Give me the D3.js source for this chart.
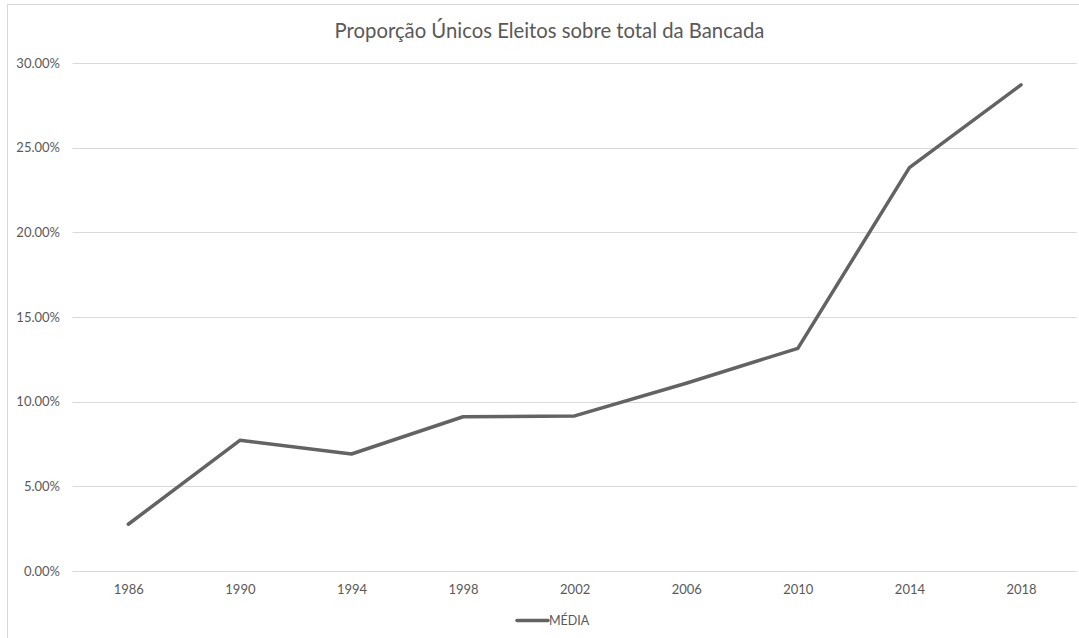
<!DOCTYPE html>
<html><head><meta charset="utf-8">
<script src="https://cdn.jsdelivr.net/npm/d3@7"></script>
<style>body{margin:0;background:#fff}svg{display:block}</style>
</head><body>
<svg id="c" width="1079" height="638"></svg>
<script>
const years = ["1986","1990","1994","1998","2002","2006","2010","2014","2018"];
const media = [0.0276,0.0772,0.0691,0.0911,0.0916,0.1109,0.1315,0.2382,0.2871];
const yTicks = [0,0.05,0.10,0.15,0.20,0.25,0.30];
const title = "Proporção Únicos Eleitos sobre total da Bancada";
const seriesName = "MÉDIA";

const svg = d3.select("#c");
const font = "Lato, 'Open Sans', sans-serif";
const m = {left:72.5, right:1076.8, top:63, bottom:571};

svg.append("rect").attr("x",7.5).attr("y",4.5).attr("width",1080).attr("height",640)
  .attr("fill","#fff").attr("stroke","#d9d9d9").attr("stroke-width",1);

const x = d3.scalePoint().domain(years).range([m.left, m.right]).padding(0.5);
const y = d3.scaleLinear().domain([0,0.30]).range([m.bottom, m.top]);

// gridlines
svg.append("g").selectAll("line").data(yTicks).join("line")
  .attr("x1",m.left).attr("x2",m.right)
  .attr("y1",d=>Math.round(y(d))+0.5).attr("y2",d=>Math.round(y(d))+0.5)
  .attr("stroke","#d9d9d9").attr("stroke-width",1);

// y axis labels
const yAxis = d3.axisLeft(y).tickValues(yTicks).tickFormat(d=>(d*100).toFixed(2)+"%").tickSize(0).tickPadding(0);
const ya = svg.append("g").attr("transform",`translate(60,0)`).call(yAxis);
ya.select(".domain").remove();
ya.selectAll("text").attr("fill","#595959").style("font-family",font).style("font-size","13px");

// x axis labels
const xAxis = d3.axisBottom(x).tickSize(0).tickPadding(0);
const xa = svg.append("g").attr("transform",`translate(0,${m.bottom+14})`).call(xAxis);
xa.select(".domain").remove();
xa.selectAll("text").attr("fill","#595959").style("font-family",font).style("font-size","13px");

// line
const line = d3.line().x((d,i)=>x(years[i])).y(d=>y(d));
svg.append("path").datum(media).attr("d",line)
  .attr("fill","none").attr("stroke","#636363").attr("stroke-width",3.5)
  .attr("stroke-linecap","round").attr("stroke-linejoin","round");

// title
svg.append("text").attr("x",549.5).attr("y",38).attr("text-anchor","middle")
  .attr("fill","#595959").style("font-family",font).style("font-size","20.3px").text(title);

// legend
svg.append("line").attr("x1",517).attr("x2",548).attr("y1",620.5).attr("y2",620.5)
  .attr("stroke","#636363").attr("stroke-width",3.5).attr("stroke-linecap","round");
svg.append("text").attr("x",549).attr("y",625).attr("fill","#595959")
  .style("font-family",font).style("font-size","12.5px").text(seriesName);
</script>
</body></html>
